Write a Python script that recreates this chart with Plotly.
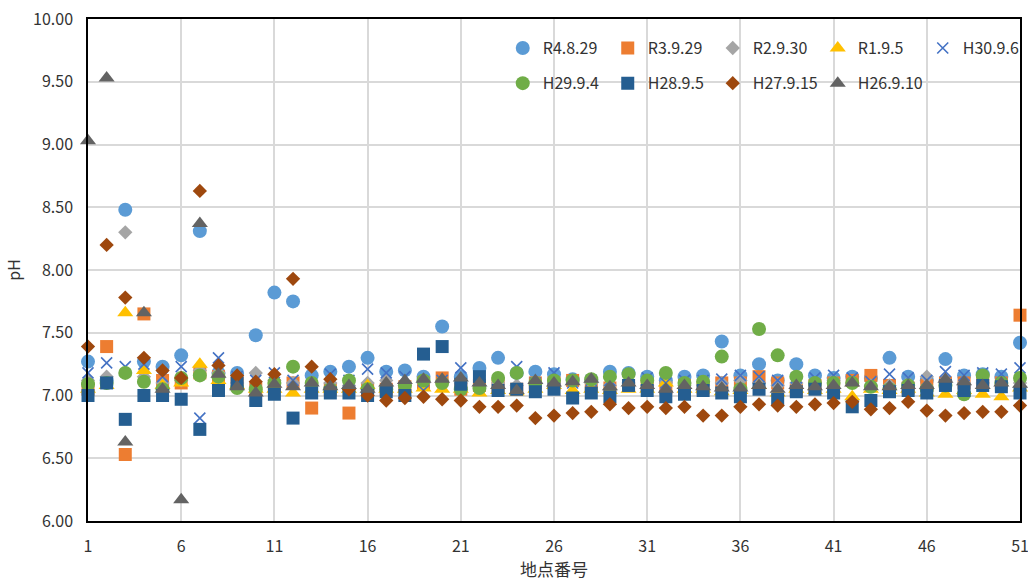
import plotly.graph_objects as go

x_points = list(range(1, 52))
x_ticks = [1, 6, 11, 16, 21, 26, 31, 36, 41, 46, 51]
y_ticks = [6.0, 6.5, 7.0, 7.5, 8.0, 8.5, 9.0, 9.5, 10.0]

r4_8_29 = [7.27, 7.12, 8.48, 7.27, 7.23, 7.32, 8.31, 7.18, 7.18, 7.48,
           7.82, 7.75, 7.16, 7.19, 7.23, 7.30, 7.19, 7.20, 7.15, 7.55,
           7.15, 7.22, 7.30, 7.18, 7.19, 7.17, 7.13, 7.12, 7.19, 7.18,
           7.15, 7.12, 7.15, 7.16, 7.43, 7.16, 7.25, 7.12, 7.25, 7.16,
           7.14, 7.15, 7.14, 7.30, 7.15, 7.12, 7.29, 7.16, 7.17, 7.15, 7.42]
r3_9_29 = [7.05, 7.39, 6.53, 7.65, 7.12, 7.10, 7.18, 7.15, 7.10, 7.05,
           7.08, 7.10, 6.90, 7.05, 6.86, 7.05, 7.05, 7.07, 7.10, 7.14,
           7.05, 7.08, 7.08, 7.05, 7.10, 7.10, 7.12, 7.08, 7.06, 7.08,
           7.08, 7.06, 7.08, 7.06, 7.10, 7.10, 7.15, 7.10, 7.04, 7.08,
           7.10, 7.12, 7.16, 7.08, 7.06, 7.08, 7.10, 7.10, 7.12, 7.10, 7.64]
r2_9_30 = [7.12, 7.15, 8.30, 7.15, 7.10, 7.12, 7.20, 7.18, 7.10, 7.18,
           7.12, 7.10, 7.08, 7.10, 7.08, 7.10, 7.12, 7.08, 7.10, 7.12,
           7.10, 7.08, 7.10, 7.08, 7.10, 7.12, 7.10, 7.10, 7.08, 7.10,
           7.08, 7.10, 7.08, 7.08, 7.10, 7.12, 7.10, 7.08, 7.10, 7.10,
           7.12, 7.10, 7.08, 7.08, 7.10, 7.15, 7.12, 7.10, 7.10, 7.08, 7.10]
r1_9_5 = [7.05, 7.08, 7.66, 7.20, 7.08, 7.10, 7.25, 7.12, 7.08, 7.05,
          7.05, 7.02, 7.05, 7.05, 7.05, 7.08, 7.05, 7.05, 7.06, 7.05,
          7.05, 7.02, 7.04, 7.03, 7.05, 7.08, 7.04, 7.05, 7.04, 7.05,
          7.05, 7.10, 7.05, 7.05, 7.03, 7.04, 7.08, 7.02, 7.05, 7.04,
          7.05, 6.99, 7.05, 7.04, 7.05, 7.02, 7.01, 7.04, 7.01, 6.99, 7.06]
h30_9_6 = [7.18, 7.26, 7.23, 7.25, 7.15, 7.23, 6.82, 7.30, 7.15, 7.12,
           7.18, 7.12, 7.08, 7.17, 7.12, 7.21, 7.18, 7.15, 7.04, 7.12,
           7.22, 7.12, 7.10, 7.23, 7.10, 7.18, 7.10, 7.12, 7.12, 7.14,
           7.14, 7.10, 7.12, 7.12, 7.13, 7.16, 7.15, 7.12, 7.14, 7.14,
           7.16, 7.14, 7.11, 7.17, 7.14, 7.12, 7.19, 7.16, 7.18, 7.17, 7.22]
h29_9_4 = [7.09, 7.10, 7.18, 7.11, 7.05, 7.14, 7.16, 7.15, 7.06, 7.05,
           7.10, 7.23, 7.10, 7.05, 7.12, 7.05, 7.05, 7.08, 7.12, 7.10,
           7.05, 7.06, 7.14, 7.18, 7.10, 7.12, 7.12, 7.13, 7.15, 7.17,
           7.12, 7.18, 7.10, 7.11, 7.31, 7.05, 7.53, 7.32, 7.15, 7.10,
           7.10, 7.10, 7.07, 7.05, 7.08, 7.05, 7.08, 7.01, 7.16, 7.10, 7.14]
h28_9_5 = [7.00, 7.10, 6.81, 7.00, 7.00, 6.97, 6.73, 7.04, 7.10, 6.96,
           7.01, 6.82, 7.02, 7.02, 7.02, 7.00, 7.03, 7.00, 7.33, 7.39,
           7.09, 7.15, 7.04, 7.05, 7.03, 7.05, 6.98, 7.02, 6.99, 7.08,
           7.04, 6.99, 7.01, 7.04, 7.02, 6.99, 7.05, 6.97, 7.03, 7.05,
           7.02, 6.91, 6.96, 7.03, 7.04, 7.02, 7.08, 7.04, 7.08, 7.07, 7.02]
h27_9_15 = [7.39, 8.20, 7.78, 7.30, 7.20, 7.14, 8.63, 7.24, 7.16, 7.11,
            7.17, 7.93, 7.23, 7.13, 7.05, 7.00, 6.96, 6.98, 6.99, 6.97,
            6.96, 6.91, 6.91, 6.92, 6.82, 6.84, 6.86, 6.87, 6.93, 6.90,
            6.91, 6.90, 6.91, 6.84, 6.84, 6.91, 6.93, 6.92, 6.91, 6.93,
            6.94, 6.95, 6.89, 6.90, 6.95, 6.88, 6.84, 6.86, 6.87, 6.87, 6.92]
h26_9_10 = [9.03, 9.53, 6.63, 7.66, 7.05, 6.17, 8.37, 7.17, 7.07, 7.02,
            7.09, 7.07, 7.10, 7.07, 7.08, 7.05, 7.10, 7.12, 7.13, 7.13,
            7.14, 7.10, 7.08, 7.04, 7.12, 7.10, 7.11, 7.13, 7.07, 7.10,
            7.08, 7.05, 7.08, 7.07, 7.06, 7.06, 7.08, 7.05, 7.08, 7.07,
            7.08, 7.10, 7.07, 7.07, 7.08, 7.08, 7.13, 7.11, 7.08, 7.10, 7.09]

series = [
    ("R4.8.29", r4_8_29, "circle", 14, "#5B9BD5", "legend"),
    ("R3.9.29", r3_9_29, "square", 13, "#ED7D31", "legend"),
    ("R2.9.30", r2_9_30, "diamond", 11, "#A5A5A5", "legend"),
    ("R1.9.5", r1_9_5, "triangle-up", 14, "#FFC000", "legend"),
    ("H30.9.6", h30_9_6, "x-thin-open", 11, "#4472C4", "legend"),
    ("H29.9.4", h29_9_4, "circle", 14, "#70AD47", "legend2"),
    ("H28.9.5", h28_9_5, "square", 13, "#255E91", "legend2"),
    ("H27.9.15", h27_9_15, "diamond", 11, "#9E480E", "legend2"),
    ("H26.9.10", h26_9_10, "triangle-up", 14, "#636363", "legend2"),
]

fig = go.Figure()
for name, vals, sym, size, color, lg in series:
    marker = dict(symbol=sym, size=size, color=color)
    if sym == "x-thin-open":
        marker["line"] = dict(color=color, width=1.6)
    fig.add_trace(go.Scatter(
        x=x_points, y=vals, mode="markers", name=name, marker=marker,
        cliponaxis=False, legend=lg,
    ))

font_family = "Noto Sans CJK JP"
legend_common = dict(
    orientation="h", xanchor="left", yanchor="middle",
    font=dict(size=16, color="#333333", family=font_family),
    bgcolor="rgba(0,0,0,0)", entrywidth=60, entrywidthmode="pixels",
    itemwidth=30,
)

fig.update_layout(
    width=1028, height=581,
    margin=dict(l=88, r=8, t=19, b=60, autoexpand=False),
    paper_bgcolor="white", plot_bgcolor="white",
    font=dict(family=font_family, size=16, color="#333333"),
    legend=dict(x=0.445, y=0.942, **legend_common),
    legend2=dict(x=0.445, y=0.872, **legend_common),
    xaxis=dict(
        range=[1, 51], tickvals=x_ticks, showgrid=True, gridcolor="#D9D9D9",
        gridwidth=1.5, showline=True, linecolor="black", linewidth=1.5,
        mirror=True, zeroline=False, ticks="", ticklen=0, automargin=False,
        ticklabeloverflow="allow", ticklabelstandoff=10,
        tickfont=dict(size=16, color="#333333"),
        title=dict(text="地点番号", font=dict(size=17, color="#333333"), standoff=12),
    ),
    yaxis=dict(
        range=[6, 10], tickvals=y_ticks, tickformat=".2f", showgrid=True,
        gridcolor="#D9D9D9", gridwidth=1.5, showline=True, linecolor="black",
        linewidth=1.5, mirror=True, zeroline=False, ticks="", automargin=False,
        ticklabelstandoff=10,
        tickfont=dict(size=16, color="#333333"),
        title=dict(text="pH", font=dict(size=16, color="#333333"), standoff=8),
    ),
)

fig.write_html("out.html")
